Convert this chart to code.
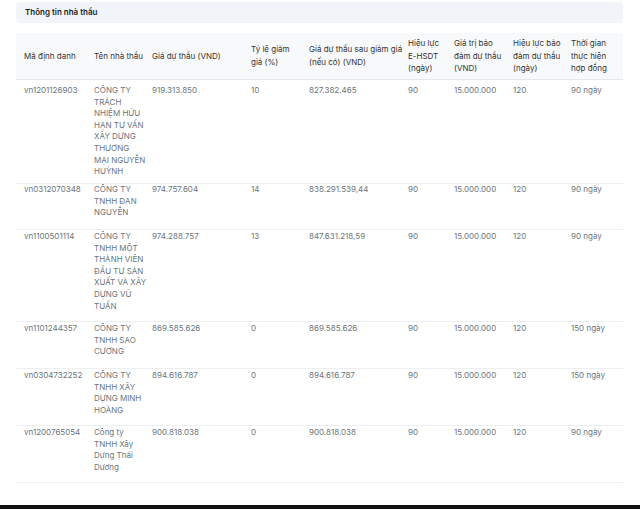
<!DOCTYPE html>
<html><head><meta charset="utf-8">
<script src="https://cdn.jsdelivr.net/npm/chart.js@4"></script>
<style>
body{margin:0;width:640px;height:509px;background:#fff;font-family:Inter,sans-serif;position:relative;overflow:hidden}
.t{position:absolute;left:16px;top:2px;width:607px;height:21px;background:#f1f4f8;border-radius:4px;font-size:8px;font-weight:600;color:#222;line-height:21px;padding-left:9px;box-sizing:border-box}
.hb{position:absolute;left:16px;top:33px;width:607px;height:46px;background:#f8f9fa;border-bottom:1px solid #e3e6ea}
.c{position:absolute;font-size:8px;line-height:11.6px;color:#6c757d}
.h{color:#333;line-height:12.6px}
.l{position:absolute;left:16px;width:607px;height:1px;background:#eceef1}
.bb{position:absolute;left:0;top:505px;width:640px;height:4px;background:#111}
</style></head><body>
<div class="t">Thông tin nhà thầu</div>
<div class="hb"></div>
<div id="root"></div>
<div class="bb"></div>
<script>
const colX=[24,94,152,251,309,408,454,513,571];
const headerLines=[["Mã định danh"],["Tên nhà thầu"],["Giá dự thầu (VND)"],["Tỷ lệ giảm","giá (%)"],["Giá dự thầu sau giảm giá","(nếu có) (VND)"],["Hiệu lực","E-HSDT","(ngày)"],["Giá trị bảo","đảm dự thầu","(VND)"],["Hiệu lực bảo","đảm dự thầu","(ngày)"],["Thời gian","thực hiện","hợp đồng"]];
const ids=["vn1201126903","vn0312070348","vn1100501114","vn1101244357","vn0304732252","vn1200765054"];
const names=[["CÔNG TY","TRÁCH","NHIỆM HỮU","HẠN TƯ VẤN","XÂY DỰNG","THƯƠNG","MẠI NGUYỄN","HUỲNH"],["CÔNG TY","TNHH ĐAN","NGUYỄN"],["CÔNG TY","TNHH MỘT","THÀNH VIÊN","ĐẦU TƯ SẢN","XUẤT VÀ XÂY","DỰNG VŨ","TUẤN"],["CÔNG TY","TNHH SAO","CƯƠNG"],["CÔNG TY","TNHH XÂY","DỰNG MINH","HOÀNG"],["Công ty","TNHH Xây","Dựng Thái","Dương"]];
const bidPrice=["919.313.850","974.757.604","974.288.757","869.585.626","894.616.787","900.818.038"];
const discount=["10","14","13","0","0","0"];
const finalPrice=["827.382.465","838.291.539,44","847.631.218,59","869.585.626","894.616.787","900.818.038"];
const validity=["90","90","90","90","90","90"];
const guarantee=["15.000.000","15.000.000","15.000.000","15.000.000","15.000.000","15.000.000"];
const guaranteeDays=["120","120","120","120","120","120"];
const duration=["90 ngày","90 ngày","90 ngày","150 ngày","150 ngày","90 ngày"];
const rowTop=[85,184,231,323,370,427];
const rowEnd=[183,229,321,368,425,482];
const root=document.getElementById('root');
function cell(x,y,lines,cls){const d=document.createElement('div');d.className='c '+(cls||'');d.style.left=x+'px';d.style.top=y+'px';d.innerHTML=lines.join('<br>');root.appendChild(d);}
headerLines.forEach((ls,i)=>{const y=56-ls.length*12.6/2;cell(colX[i],y,ls,'h');});
ids.forEach((id,r)=>{
  const vals=[[id],names[r],[bidPrice[r]],[discount[r]],[finalPrice[r]],[validity[r]],[guarantee[r]],[guaranteeDays[r]],[duration[r]]];
  vals.forEach((v,i)=>cell(colX[i],rowTop[r],v));
  const l=document.createElement('div');l.className='l';l.style.top=rowEnd[r]+'px';root.appendChild(l);
});
</script></body></html>
